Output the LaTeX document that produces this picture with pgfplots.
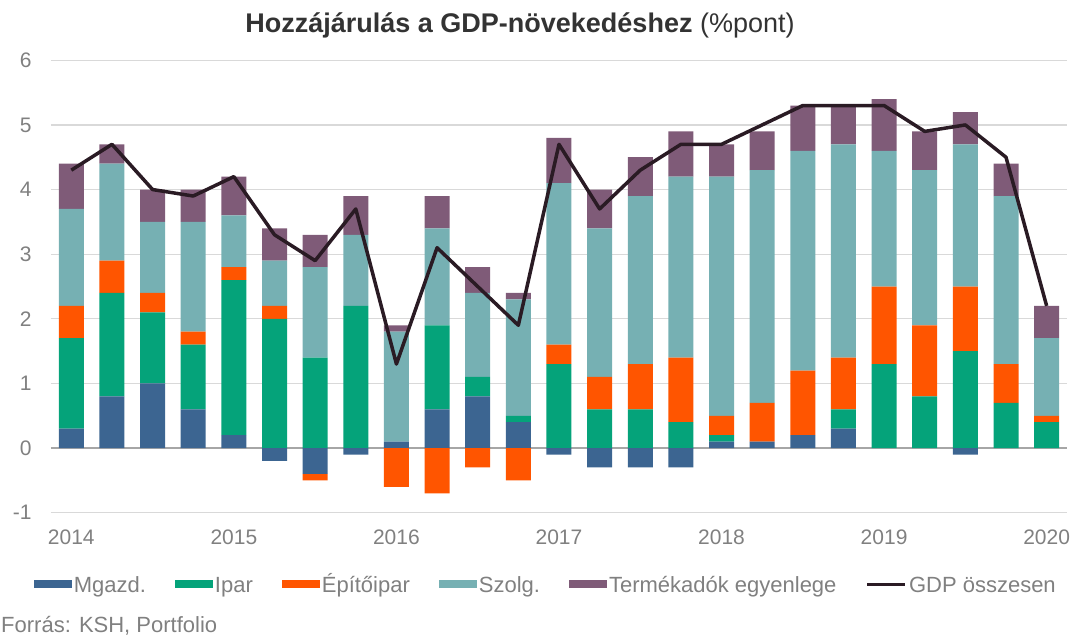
\documentclass[border=0pt]{standalone}
\usepackage{fontspec}
\setmainfont{Liberation Sans}
\usepackage{pgfplots}
\usepackage{pgfplotstable}
\pgfplotsset{compat=1.18}

\definecolor{cMg}{HTML}{3C6591}
\definecolor{cIp}{HTML}{05A37A}
\definecolor{cEp}{HTML}{FF5500}
\definecolor{cSz}{HTML}{76B0B3}
\definecolor{cTe}{HTML}{7F5B78}
\definecolor{cGdp}{HTML}{2A1B24}
\definecolor{cGrid}{HTML}{D9D9D9}
\definecolor{cZero}{HTML}{A6A6A6}
\definecolor{cTxt}{HTML}{808080}
\definecolor{cTitle}{HTML}{333333}

\pgfplotstableread{
i  mg   ip   ep   sz   te   gdp
0  0.3  1.4  0.5  1.5  0.7  4.3
1  0.8  1.6  0.5  1.5  0.3  4.7
2  1.0  1.1  0.3  1.1  0.5  4.0
3  0.6  1.0  0.2  1.7  0.5  3.9
4  0.2  2.4  0.2  0.8  0.6  4.2
5  -0.2 2.0  0.2  0.7  0.5  3.3
6  -0.4 1.4  -0.1 1.4  0.5  2.9
7  -0.1 2.2  0.0  1.1  0.6  3.7
8  0.1  0.0  -0.6 1.7  0.1  1.3
9  0.6  1.3  -0.7 1.5  0.5  3.1
10 0.8  0.3  -0.3 1.3  0.4  2.5
11 0.4  0.1  -0.5 1.8  0.1  1.9
12 -0.1 1.3  0.3  2.5  0.7  4.7
13 -0.3 0.6  0.5  2.3  0.6  3.7
14 -0.3 0.6  0.7  2.6  0.6  4.3
15 -0.3 0.4  1.0  2.8  0.7  4.7
16 0.1  0.1  0.3  3.7  0.5  4.7
17 0.1  0.0  0.6  3.6  0.6  5.0
18 0.2  0.0  1.0  3.4  0.7  5.3
19 0.3  0.3  0.8  3.3  0.6  5.3
20 0.0  1.3  1.2  2.1  0.8  5.3
21 0.0  0.8  1.1  2.4  0.6  4.9
22 -0.1 1.5  1.0  2.2  0.5  5.0
23 0.0  0.7  0.6  2.6  0.5  4.5
24 0.0  0.4  0.1  1.2  0.5  2.2
}\data

\pgfplotsset{
  common/.style={
    scale only axis, width=1016pt, height=452.4pt,
    xmin=-0.5, xmax=24.5, ymin=-1, ymax=6,
    at={(51pt,124.3pt)}, anchor=south west,
    clip=false,
  },
  barleg/.style={legend image code/.code={\fill[##1,draw=none] (0pt,-1.5pt) rectangle (38pt,6.5pt);}},
  lineleg/.style={legend image code/.code={\draw[##1] (0pt,2.5pt) -- (38pt,2.5pt);}},
}

\begin{document}
\begin{tikzpicture}
\useasboundingbox (0,0) rectangle (1074pt,637pt);

% axis 1: grid, ticks, positive parts
\begin{axis}[common,
  ybar stacked, bar width=25pt,
  axis line style={draw=none},
  tick style={draw=none},
  major tick length=0pt,
  ymajorgrids, grid style={cGrid, line width=1.3pt},
  ytick={-1,0,...,6},
  xtick={0,4,...,24},
  xticklabels={2014,2015,2016,2017,2018,2019,2020},
  ticklabel style={font=\fontsize{21}{25}\selectfont, text=cTxt},
  /pgf/number format/assume math mode=true,
  yticklabel style={anchor=east, xshift=-16pt},
  xticklabel style={yshift=-14pt},
  extra y ticks={0}, extra y tick labels={},
  extra y tick style={grid=major, major grid style={cZero, line width=1.6pt}},
]
\addplot[fill=cMg, draw=none] table[x=i, y expr={max(\thisrow{mg},0)}]{\data};
\addplot[fill=cIp, draw=none] table[x=i, y=ip]{\data};
\addplot[fill=cEp, draw=none] table[x=i, y expr={max(\thisrow{ep},0)}]{\data};
\addplot[fill=cSz, draw=none] table[x=i, y=sz]{\data};
\addplot[fill=cTe, draw=none] table[x=i, y=te]{\data};
\end{axis}

% axis 2: negative parts
\begin{axis}[common, hide axis, ybar stacked, bar width=25pt]
\addplot[fill=cMg, draw=none] table[x=i, y expr={min(\thisrow{mg},0)}]{\data};
\addplot[fill=cEp, draw=none] table[x=i, y expr={min(\thisrow{ep},0)}]{\data};
\end{axis}

% axis 3: GDP line and legend
\begin{axis}[common, hide axis,
  legend columns=6,
  legend style={at={(0.487,-0.164)}, anchor=center, draw=none, fill=none,
    font=\fontsize{22}{26}\selectfont, text=cTxt,
    nodes={inner sep=2pt, text height=16pt, text depth=5pt},
    /tikz/every even column/.append style={column sep=27pt}},
  legend entries={Mgazd.,Ipar,Építőipar,Szolg.,Termékadók egyenlege,GDP összesen},
]
\addlegendimage{barleg, fill=cMg}
\addlegendimage{barleg, fill=cIp}
\addlegendimage{barleg, fill=cEp}
\addlegendimage{barleg, fill=cSz}
\addlegendimage{barleg, fill=cTe}
\addplot[sharp plot, color=cGdp, line width=3.5pt, line join=round, mark=none, lineleg]
  table[x=i, y=gdp]{\data};
\end{axis}

\node[anchor=base, inner sep=0pt, text=cTitle, font=\fontsize{27}{32}\selectfont]
  at (520pt,604pt) {\textbf{Hozzájárulás a GDP-növekedéshez} (\%pont)};
\node[anchor=base west, inner sep=0pt, text=cTxt, font=\fontsize{22}{26}\selectfont]
  at (1pt,4pt) {Forrás: KSH, Portfolio};
\end{tikzpicture}
\end{document}
